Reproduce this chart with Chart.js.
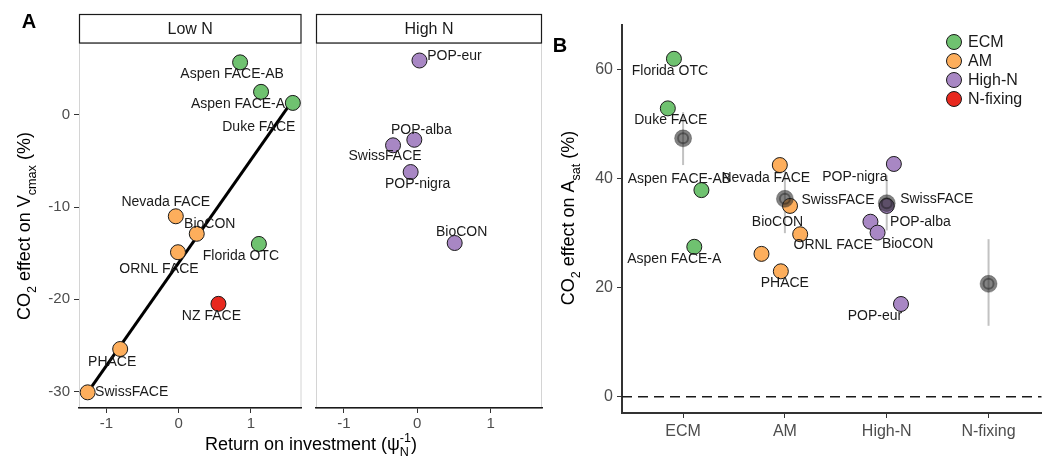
<!DOCTYPE html>
<html>
<head>
<meta charset="utf-8">
<script src="https://cdn.jsdelivr.net/npm/chart.js@4.4.1/dist/chart.umd.min.js"></script>
<style>
  body { margin: 0; background: #fff; }
  #wrap { position: relative; width: 1051px; height: 465px; }
  canvas { position: absolute; top: 0; }
</style>
</head>
<body>
<div id="wrap">
  <canvas id="lowN" width="310" height="465" style="left:0"></canvas>
  <canvas id="highN" width="560" height="465" style="left:0"></canvas>
  <canvas id="asat" width="501" height="465" style="left:550px"></canvas>
</div>
<script>
const FONT = '"Liberation Sans", Arial, sans-serif';

const groupNames = ['ECM', 'AM', 'High-N', 'N-fixing'];
const groupColors = { 'ECM': '#6fc270', 'AM': '#fdae5c', 'High-N': '#a887c4', 'N-fixing': '#e8281e' };

// Panel A - low N sites
const lowSites = ['Aspen FACE-AB', 'Aspen FACE-A', 'Duke FACE', 'Nevada FACE', 'BioCON',
                  'Florida OTC', 'ORNL FACE', 'NZ FACE', 'PHACE', 'SwissFACE'];
const lowGroups = ['ECM', 'ECM', 'ECM', 'AM', 'AM', 'ECM', 'AM', 'N-fixing', 'AM', 'AM'];
const lowRoi = [0.85, 1.14, 1.58, -0.04, 0.25, 1.11, -0.01, 0.55, -0.81, -1.26];
const lowVcmax = [5.7, 2.5, 1.3, -11.0, -12.9, -14.0, -14.9, -20.5, -25.4, -30.1];

// fitted line for the low N sites
const fitRoi = [-1.26, 1.58];
const fitVcmax = [-30.1, 1.6];

// Panel A - high N sites
const highSites = ['POP-eur', 'POP-alba', 'SwissFACE', 'POP-nigra', 'BioCON'];
const highRoi = [0.03, -0.04, -0.33, -0.09, 0.51];
const highVcmax = [5.9, -2.7, -3.3, -6.2, -13.9];

const roiTicks = [-1, 0, 1];
const vcmaxTicks = [-30, -20, -10, 0];

// Panel B - Asat response by group
const ecmSites = ['Florida OTC', 'Duke FACE', 'Aspen FACE-AB', 'Aspen FACE-A'];
const ecmPos = [0.91, 0.85, 1.18, 1.11];
const ecmAsat = [62.0, 52.9, 37.9, 27.5];

const amSites = ['Nevada FACE', 'SwissFACE', 'ORNL FACE', 'BioCON', 'PHACE'];
const amPos = [1.95, 2.05, 2.15, 1.77, 1.96];
const amAsat = [42.5, 35.0, 29.8, 26.2, 23.0];

const highnSites = ['POP-nigra', 'SwissFACE', 'POP-alba', 'BioCON', 'POP-eur'];
const highnPos = [3.07, 3.0, 2.84, 2.91, 3.14];
const highnAsat = [42.7, 35.0, 32.1, 30.1, 17.0];

// group means with their ranges
const meanPos = [1, 2, 3, 4];
const meanAsat = [47.4, 36.3, 35.5, 20.7];
const meanLow = [42.5, 30.0, 30.5, 13.0];
const meanHigh = [52.2, 43.1, 40.6, 28.9];

const asatTicks = [0, 20, 40, 60];

// label placement (pixel offsets from each point)
const lowNudge = [[-8, 12], [-23, 12], [-34, 24], [-10, -14], [13, -10],
                  [-18, 12], [-19, 17], [-7, 12], [-8, 13], [44, 0]];
const highNudge = [[35, -4], [7, -10], [-8, 11], [7, 12], [7, -11]];
const ecmNudge = [[-4, 12], [3, 12], [-22, -11], [-20, 12]];
const amNudge = [[-14, 13], [48, -6], [33, 11], [16, -32], [4, 12]];
const highnNudge = [[-39, 13], [50, -7], [50, 0], [30, 12], [-26, 12]];

function xy(xs, ys) {
    return xs.map((x, i) => ({ x: x, y: ys[i] }));
}

// text with sub/superscripts, centred on (cx, cy)
function richWidth(ctx, parts, size) {
    let w = 0;
    parts.forEach(p => {
        ctx.font = (p.t ? (p.sub ? size * 0.7 : size) : size * 0.7) + 'px ' + FONT;
        if (p.stack) w += Math.max(ctx.measureText(p.sup).width, ctx.measureText(p.sub).width);
        else w += ctx.measureText(p.t).width;
    });
    return w;
}

function drawRich(ctx, parts, cx, cy, size, color) {
    const base = cy + size * 0.36;
    let x = cx - richWidth(ctx, parts, size) / 2;
    ctx.fillStyle = color;
    ctx.textAlign = 'left';
    ctx.textBaseline = 'alphabetic';
    parts.forEach(p => {
        const small = size * 0.7;
        if (p.stack) {
            ctx.font = small + 'px ' + FONT;
            ctx.fillText(p.sup, x, base - size * 0.45);
            ctx.fillText(p.sub, x, base + size * 0.3);
            x += Math.max(ctx.measureText(p.sup).width, ctx.measureText(p.sub).width);
        } else if (p.sub) {
            ctx.font = small + 'px ' + FONT;
            ctx.fillText(p.t, x, base + size * 0.3);
            x += ctx.measureText(p.t).width;
        } else {
            ctx.font = size + 'px ' + FONT;
            ctx.fillText(p.t, x, base);
            x += ctx.measureText(p.t).width;
        }
    });
}

function drawRotated(ctx, parts, cx, cy, size) {
    ctx.save();
    ctx.translate(cx, cy);
    ctx.rotate(-Math.PI / 2);
    drawRich(ctx, parts, 0, 0, size, '#000');
    ctx.restore();
}

// site names next to each point
const siteLabels = {
    id: 'siteLabels',
    afterDatasetsDraw(chart) {
        const ctx = chart.ctx;
        ctx.save();
        ctx.font = '14px ' + FONT;
        ctx.fillStyle = '#1a1a1a';
        ctx.textAlign = 'center';
        ctx.textBaseline = 'middle';
        chart.data.datasets.forEach((ds, i) => {
            if (!ds.siteNames) return;
            chart.getDatasetMeta(i).data.forEach((pt, j) => {
                const n = ds.nudge[j];
                ctx.fillText(ds.siteNames[j], pt.x + n[0], pt.y + n[1]);
            });
        });
        ctx.restore();
    }
};

// light panel frame plus the facet strip above it
const facetFrame = {
    id: 'facetFrame',
    beforeDraw(chart) {
        const { ctx, chartArea: a } = chart;
        const strip = chart.options.plugins.facetFrame.strip;
        ctx.save();
        ctx.strokeStyle = '#d4d4d4';
        ctx.lineWidth = 1;
        ctx.strokeRect(a.left + 0.5, a.top + 0.5, a.right - a.left - 1, a.bottom - a.top);
        ctx.fillStyle = '#fff';
        ctx.strokeStyle = '#1a1a1a';
        ctx.lineWidth = 1.2;
        ctx.fillRect(a.left, 14, a.right - a.left, a.top - 14);
        ctx.strokeRect(a.left + 0.5, 14.5, a.right - a.left - 1, a.top - 14.5);
        ctx.font = '16px ' + FONT;
        ctx.fillStyle = '#1a1a1a';
        ctx.textAlign = 'center';
        ctx.textBaseline = 'middle';
        ctx.fillText(strip, (a.left + a.right) / 2, 29.5);
        ctx.restore();
    },
    afterDraw(chart) {
        const ctx = chart.ctx;
        const opts = chart.options.plugins.facetFrame;
        if (opts.letter) {
            ctx.save();
            ctx.font = 'bold 20px ' + FONT;
            ctx.fillStyle = '#000';
            ctx.textAlign = 'center';
            ctx.textBaseline = 'middle';
            ctx.fillText(opts.letter, 29, 22);
            drawRotated(ctx, [{ t: 'CO' }, { t: '2', sub: true }, { t: ' effect on V' },
                              { t: 'cmax', sub: true }, { t: ' (%)' }], 24, 226, 18);
            ctx.restore();
        }
        if (opts.xTitle) {
            drawRich(ctx, [{ t: 'Return on investment (ψ' }, { stack: true, sup: '-1', sub: 'N' },
                           { t: ')' }], 311, 444, 18, '#000');
        }
    }
};

function facetScales(yWidth, showY) {
    return {
        x: {
            type: 'linear', min: -1.38, max: 1.70,
            afterBuildTicks: s => { s.ticks = roiTicks.map(v => ({ value: v })); },
            afterFit: s => { s.height = 57; },
            grid: { drawOnChartArea: false, color: '#333', tickLength: 5 },
            border: { display: true, color: '#1a1a1a', width: 1.5 },
            ticks: { color: '#4d4d4d', font: { family: FONT, size: 15 }, padding: 2 }
        },
        y: {
            type: 'linear', min: -31.8, max: 7.8,
            afterBuildTicks: s => { s.ticks = vcmaxTicks.map(v => ({ value: v })); },
            afterFit: s => { s.width = yWidth; },
            grid: { display: showY, drawOnChartArea: false, color: '#333', tickLength: 5 },
            border: { display: false },
            ticks: { display: showY, color: '#4d4d4d', font: { family: FONT, size: 15 }, padding: 4 }
        }
    };
}

function pointDataset(xs, ys, groups, names, nudge) {
    return {
        type: 'scatter',
        data: xy(xs, ys),
        pointRadius: 7.5,
        pointBackgroundColor: groups.map(g => groupColors[g]),
        pointBorderColor: '#1a1a1a',
        pointBorderWidth: 1,
        siteNames: names,
        nudge: nudge,
        order: 1
    };
}

const common = {
    responsive: false,
    animation: false,
    devicePixelRatio: 1,
    events: []
};

// Panel A, low N facet
new Chart(document.getElementById('lowN'), {
    type: 'scatter',
    data: {
        datasets: [
            pointDataset(lowRoi, lowVcmax, lowGroups, lowSites, lowNudge),
            {
                type: 'line',
                data: xy(fitRoi, fitVcmax),
                borderColor: '#000',
                borderWidth: 3,
                pointRadius: 0,
                order: 2
            }
        ]
    },
    options: Object.assign({}, common, {
        layout: { padding: { left: 0, top: 43, right: 6, bottom: 0 } },
        scales: facetScales(79, true),
        plugins: {
            legend: { display: false },
            tooltip: { enabled: false },
            facetFrame: { strip: 'Low N', letter: 'A' }
        }
    }),
    plugins: [facetFrame, siteLabels]
});

// Panel A, high N facet
new Chart(document.getElementById('highN'), {
    type: 'scatter',
    data: {
        datasets: [
            pointDataset(highRoi, highVcmax, highSites.map(() => 'High-N'), highSites, highNudge)
        ]
    },
    options: Object.assign({}, common, {
        layout: { padding: { left: 0, top: 43, right: 18, bottom: 0 } },
        scales: facetScales(316, false),
        plugins: {
            legend: { display: false },
            tooltip: { enabled: false },
            facetFrame: { strip: 'High N', xTitle: true }
        }
    }),
    plugins: [facetFrame, siteLabels]
});

// Panel B: zero line, mean ranges, legend and titles
const asatDecor = {
    id: 'asatDecor',
    beforeDatasetsDraw(chart) {
        const { ctx, chartArea: a, scales: { x, y } } = chart;
        ctx.save();
        ctx.strokeStyle = '#1a1a1a';
        ctx.lineWidth = 1.5;
        ctx.setLineDash([10, 6]);
        const y0 = y.getPixelForValue(0);
        ctx.beginPath();
        ctx.moveTo(a.left, y0);
        ctx.lineTo(a.right, y0);
        ctx.stroke();
        ctx.setLineDash([]);
        ctx.strokeStyle = 'rgba(120,120,120,0.45)';
        ctx.lineWidth = 2;
        meanPos.forEach((p, i) => {
            const px = x.getPixelForValue(p);
            ctx.beginPath();
            ctx.moveTo(px, y.getPixelForValue(meanLow[i]));
            ctx.lineTo(px, y.getPixelForValue(meanHigh[i]));
            ctx.stroke();
        });
        ctx.restore();
    },
    afterDraw(chart) {
        const ctx = chart.ctx;
        ctx.save();
        ctx.font = 'bold 20px ' + FONT;
        ctx.fillStyle = '#000';
        ctx.textAlign = 'center';
        ctx.textBaseline = 'middle';
        ctx.fillText('B', 10, 46);
        drawRotated(ctx, [{ t: 'CO' }, { t: '2', sub: true }, { t: ' effect on A' },
                          { t: 'sat', sub: true }, { t: ' (%)' }], 18, 218, 18);
        // legend
        groupNames.forEach((g, i) => {
            const ly = 42 + i * 19;
            ctx.beginPath();
            ctx.arc(404, ly, 7.5, 0, Math.PI * 2);
            ctx.fillStyle = groupColors[g];
            ctx.fill();
            ctx.strokeStyle = '#1a1a1a';
            ctx.lineWidth = 1;
            ctx.stroke();
            ctx.font = '16px ' + FONT;
            ctx.fillStyle = '#1a1a1a';
            ctx.textAlign = 'left';
            ctx.fillText(g, 418, ly + 1);
        });
        ctx.restore();
    }
};

new Chart(document.getElementById('asat'), {
    type: 'scatter',
    data: {
        datasets: [
            pointDataset(ecmPos, ecmAsat, ecmSites.map(() => 'ECM'), ecmSites, ecmNudge),
            pointDataset(amPos, amAsat, amSites.map(() => 'AM'), amSites, amNudge),
            pointDataset(highnPos, highnAsat, highnSites.map(() => 'High-N'), highnSites, highnNudge),
            {
                data: xy(meanPos, meanAsat),
                pointRadius: 8.5,
                pointBackgroundColor: 'rgba(40,40,40,0.58)',
                pointBorderColor: 'rgba(40,40,40,0.3)',
                pointBorderWidth: 1,
                order: 0
            },
            {
                data: xy(meanPos, meanAsat),
                pointRadius: 5,
                pointBackgroundColor: 'rgba(0,0,0,0)',
                pointBorderColor: 'rgba(20,20,20,0.4)',
                pointBorderWidth: 2,
                order: -1
            }
        ]
    },
    options: Object.assign({}, common, {
        layout: { padding: { left: 0, top: 25, right: 0, bottom: 0 } },
        scales: {
            x: {
                type: 'linear', min: 0.4, max: 4.52,
                afterBuildTicks: s => { s.ticks = meanPos.map(v => ({ value: v })); },
                afterFit: s => { s.height = 52; },
                grid: { drawOnChartArea: false, color: '#333', tickLength: 5 },
                border: { display: true, color: '#333', width: 2 },
                ticks: {
                    color: '#4d4d4d', font: { family: FONT, size: 16 }, padding: 4,
                    callback: v => groupNames[v - 1]
                }
            },
            y: {
                type: 'linear', min: -3, max: 68.2,
                afterBuildTicks: s => { s.ticks = asatTicks.map(v => ({ value: v })); },
                afterFit: s => { s.width = 72; },
                grid: { drawOnChartArea: false, color: '#333', tickLength: 5 },
                border: { display: true, color: '#333', width: 2 },
                ticks: { color: '#4d4d4d', font: { family: FONT, size: 16 }, padding: 4 }
            }
        },
        plugins: {
            legend: { display: false },
            tooltip: { enabled: false }
        }
    }),
    plugins: [asatDecor, siteLabels]
});
</script>
</body>
</html>
